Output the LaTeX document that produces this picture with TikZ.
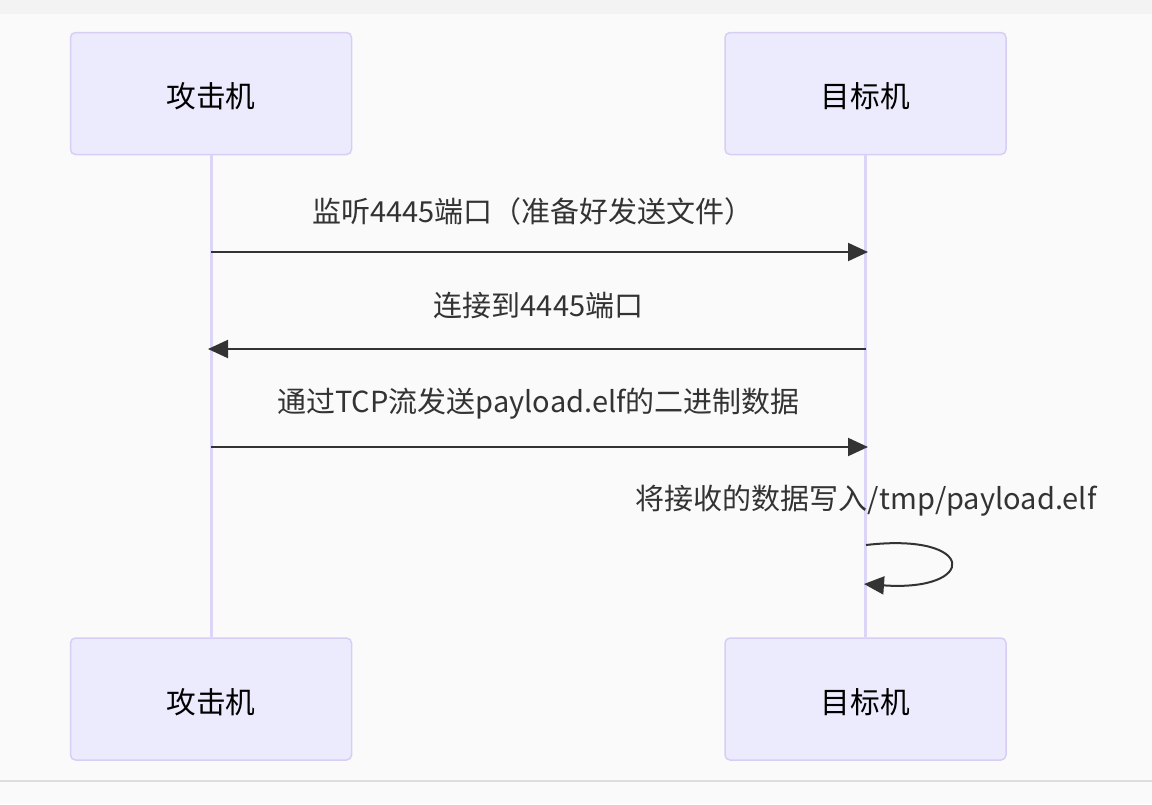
\documentclass[tikz,border=0pt]{standalone}
\usepackage{fontspec}
\setmainfont{Noto Sans CJK SC}
\usetikzlibrary{arrows.meta}
\definecolor{bgc}{HTML}{FAFAFA}
\definecolor{topc}{HTML}{F3F3F3}
\definecolor{boxfill}{HTML}{ECEBFE}
\definecolor{boxline}{HTML}{D8CEF4}
\definecolor{lifec}{HTML}{DDD5F7}
\definecolor{msgc}{HTML}{333333}
\definecolor{sepc}{HTML}{DDDDDD}
\newcommand{\actortext}[1]{\raisebox{-3pt}[\height][\depth]{#1}}
\tikzset{
  actor/.style={draw=boxline, fill=boxfill, line width=1.5pt, rounded corners=5pt,
    minimum width=281pt, minimum height=122pt, inner sep=0pt,
    font=\fontsize{29.7}{34}\selectfont, text=black},
  lifeline/.style={draw=lifec, line width=3pt},
  msg/.style={draw=msgc, line width=2pt, -{Triangle[length=20pt,width=18pt]}},
  msglabel/.style={font=\fontsize{29}{34}\selectfont, text=msgc, inner sep=0pt}
}
\begin{document}
\begin{tikzpicture}[x=1pt,y=-1pt]
\useasboundingbox (0,0) rectangle (1152,804);
\fill[bgc] (0,0) rectangle (1152,804);
\fill[topc] (0,0) rectangle (1152,14);
\draw[sepc, line width=1.2pt] (0,781) -- (1152,781);

\node[actor] (A1) at (211,93.5) {\actortext{攻击机}};
\node[actor] (B1) at (865.5,93.5) {\actortext{目标机}};
\node[actor] (A2) at (211,699) {\actortext{攻击机}};
\node[actor] (B2) at (865.5,699) {\actortext{目标机}};

\draw[lifeline] (A1.south) -- (A2.north);
\draw[lifeline] (B1.south) -- (B2.north);

\coordinate (a1) at (211,252);
\coordinate (b1) at (868,252);
\coordinate (a2) at (208,349);
\coordinate (b2) at (866,349);
\coordinate (a3) at (211,447);
\coordinate (b3) at (868,447);
\coordinate (l1) at (866,545);
\coordinate (l2) at (864,584);

\node[msglabel] (t1) at (533,211) {监听4445端口（准备好发送文件）};
\draw[msg] (a1) -- (b1);
\node[msglabel] (t2) at (538.5,306) {连接到4445端口};
\draw[msg] (b2) -- (a2);
\node[msglabel] (t3) at (538.5,404) {通过TCP流发送payload.elf的二进制数据};
\draw[msg] (a3) -- (b3);
\node[msglabel] (t4) at (866,501) {将接收的数据写入/tmp/payload.elf};
\draw[msg] (l1) .. controls (978,532) and (978,592) .. (l2);
\end{tikzpicture}
\end{document}
